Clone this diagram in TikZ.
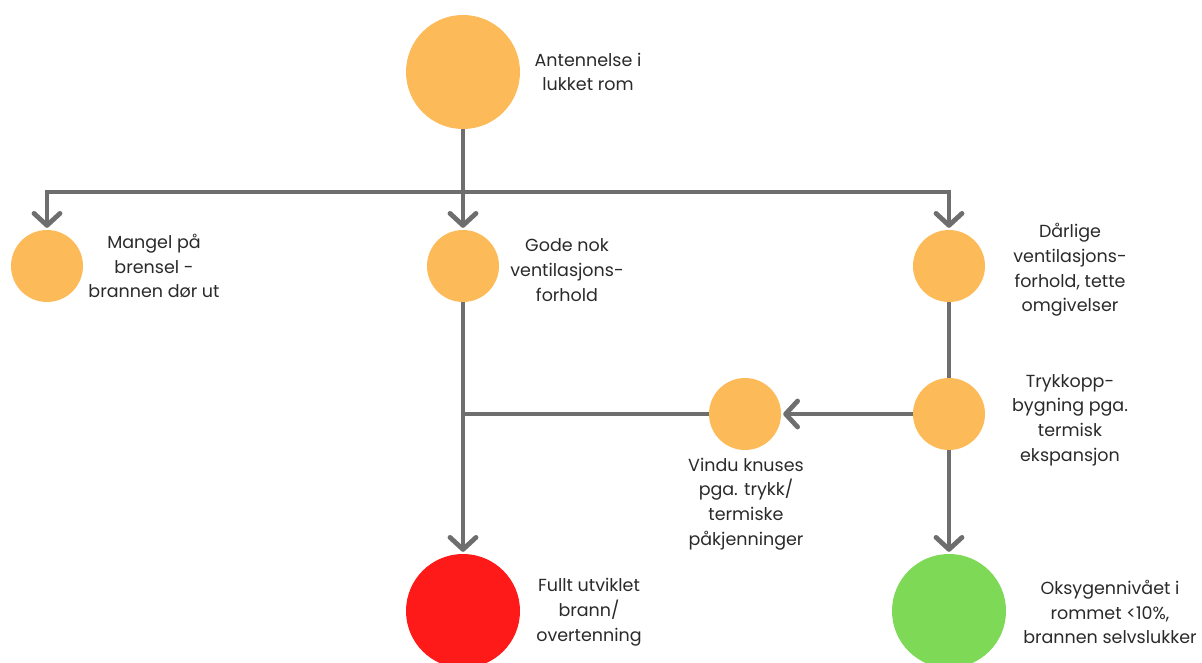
\documentclass[tikz,border=0pt]{standalone}
\usepackage{fontspec}
\setmainfont{Poppins}
\usetikzlibrary{arrows.meta}
\definecolor{orng}{HTML}{FDBA59}
\definecolor{redc}{HTML}{FF1A1A}
\definecolor{grnc}{HTML}{7ED957}
\definecolor{linec}{HTML}{6E6E6E}
\definecolor{txtc}{HTML}{2A2A2A}
\tikzset{
  big/.style={circle, inner sep=0pt, minimum size=114pt, fill=#1, draw=none},
  small/.style={circle, inner sep=0pt, minimum size=72pt, fill=#1, draw=none},
  lab/.style={align=center, text=txtc, font=\fontsize{17.5}{24.8}\selectfont, inner sep=0pt},
  conn/.style={draw=linec, line width=4.8pt, line join=miter},
  arr/.style={conn, -{Straight Barb[length=12pt, width=26pt, line width=4.8pt, round]}, shorten >=2pt},
}
\begin{document}
\begin{tikzpicture}[x=1pt, y=-1pt]
\useasboundingbox (0,0) rectangle (1202,663);
\node[big=orng] (top) at (463,72) {};
\node[small=orng] (mangel) at (47,266) {};
\node[small=orng] (gode) at (463,266) {};
\node[small=orng] (darlig) at (949,266) {};
\node[small=orng] (trykk) at (949,414) {};
\node[small=orng] (vindu) at (745,414) {};
\node[big=redc] (full) at (463,611) {};
\node[big=grnc] (oks) at (949,611) {};

\node[lab] (tTop) at (588,72) {Antennelse i\\lukket rom};
\node[lab] (tMangel) at (154,266) {Mangel på\\brensel -\\brannen dør ut};
\node[lab] (tGode) at (567,270) {Gode nok\\ventilasjons-\\forhold};
\node[lab] (tDarlig) at (1070,270) {Dårlige\\ventilasjons-\\forhold, tette\\omgivelser};
\node[lab] (tTrykk) at (1070,420) {Trykkopp-\\bygning pga.\\termisk\\ekspansjon};
\node[lab] (tVindu) at (746,504) {Vindu knuses\\pga. trykk/\\termiske\\påkjenninger};
\node[lab] (tFull) at (589,612) {Fullt utviklet\\brann/\\overtenning};
\node[lab] (tOks) at (1110,612) {Oksygennivået i\\rommet <10\%,\\brannen selvslukker};

\coordinate (jM) at (463,192);
\coordinate (jV) at (463,414);

\draw[conn] (top.south) -- (jM);
\draw[arr] (jM) -- (gode.north);
\draw[arr] (jM) -| (mangel.north);
\draw[arr] (jM) -| (darlig.north);
\draw[arr] (gode.south) -- (full.north);
\draw[conn] (vindu.west) -- (jV);
\draw[arr] (trykk.west) -- (vindu.east);
\draw[conn] (darlig.south) -- (trykk.north);
\draw[arr] (trykk.south) -- (oks.north);
\end{tikzpicture}
\end{document}
